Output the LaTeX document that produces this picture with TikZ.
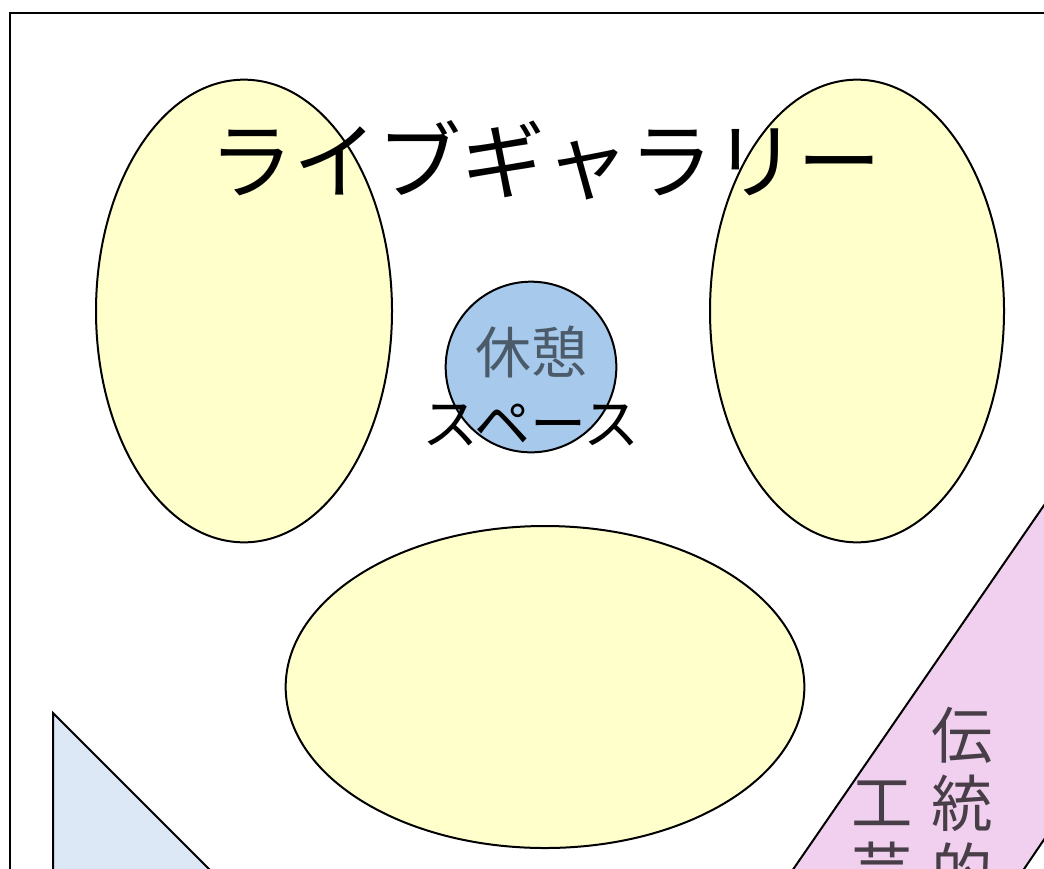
\documentclass[tikz,border=0pt]{standalone}
\usepackage{fontspec}
\newfontfamily\jp{Noto Sans CJK JP}
\usetikzlibrary{shapes.geometric}

\definecolor{hallyellow}{RGB}{255,255,204}
\definecolor{restblue}{RGB}{166,201,236}
\definecolor{sideblue}{RGB}{220,232,245}
\definecolor{craftpink}{RGB}{240,208,238}

\tikzset{
	wall/.style={draw=black, line width=1.5pt},
	hall/.style={ellipse, wall, fill=hallyellow, inner sep=0pt},
	label/.style={inner sep=0pt, align=center},
}

\begin{document}
\begin{tikzpicture}[x=0.75pt, y=-0.75pt]

	\useasboundingbox (0,0) rectangle (1044,868);
	\clip (0,0) rectangle (1044,868);

	% outer wall
	\draw[wall] (9.5,12.5) rectangle (1100,920);

	% exhibition halls
	\node[hall, minimum width=222pt, minimum height=347pt] (hallL) at (244,311) {};
	\node[hall, minimum width=220.5pt, minimum height=347pt] (hallR) at (857,311) {};
	\node[hall, minimum width=389pt, minimum height=241.5pt] (hallB) at (545,687) {};

	% rest area
	\node[circle, wall, fill=restblue, minimum size=128pt, inner sep=0pt] (rest) at (531,367) {};

	% corners
	\filldraw[fill=sideblue, wall] (53,713) -- (53,920) -- (260,920) -- cycle;
	\fill[craftpink] (1100,424) -- (772,900) -- (1003,900) -- (1100,757) -- cycle;
	\draw[wall] (1100,424) -- (772,900);
	\draw[wall] (1100,757) -- (1003,900);

	% texts
	\node[label, font=\jp\fontsize{63pt}{63pt}\selectfont] (title) at (545,160) {ライブギャラリー};
	\node[label, font=\jp\fontsize{42pt}{42pt}\selectfont, text=black!55!restblue] (restA) at (531,352) {休憩};
	\node[label, font=\jp\fontsize{42pt}{42pt}\selectfont] (restB) at (531,425) {スペース};

	\node[label, font=\jp\fontsize{46pt}{46pt}\selectfont, text=black!70!craftpink] (craftA) at (962,735) {伝};
	\node[label, font=\jp\fontsize{46pt}{46pt}\selectfont, text=black!70!craftpink] (craftB) at (962,803) {統};
	\node[label, font=\jp\fontsize{46pt}{46pt}\selectfont, text=black!70!craftpink] (craftC) at (962,871) {的};
	\node[label, font=\jp\fontsize{46pt}{46pt}\selectfont, text=black!70!craftpink] (craftD) at (882,803) {工};
	\node[label, font=\jp\fontsize{46pt}{46pt}\selectfont, text=black!70!craftpink] (craftE) at (882,871) {芸};

\end{tikzpicture}
\end{document}
